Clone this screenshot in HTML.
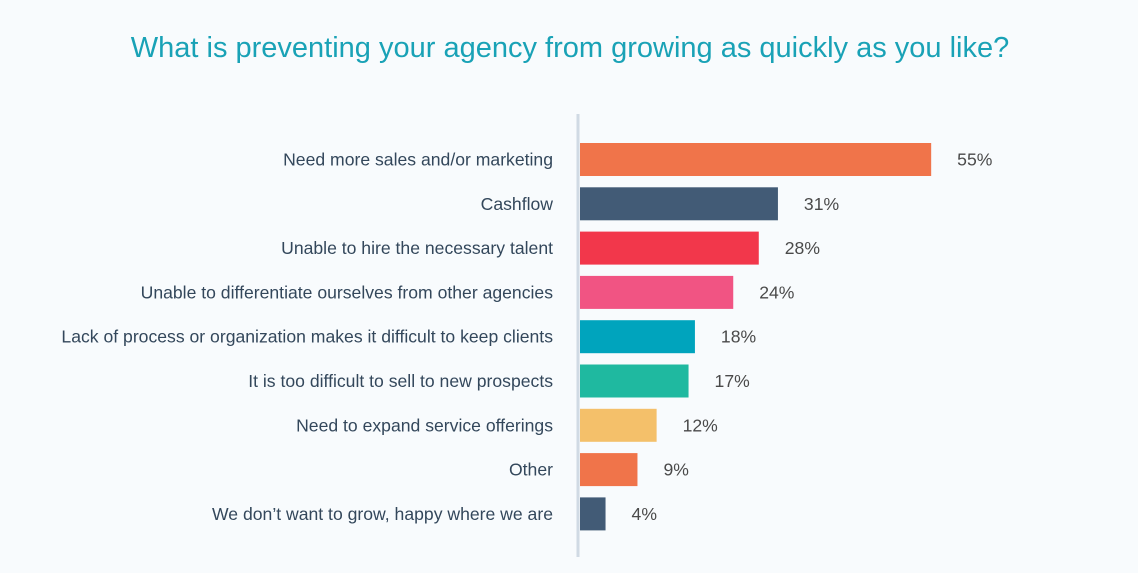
<!DOCTYPE html>
<html><head><meta charset="utf-8"><style>
body{margin:0;width:1138px;height:573px;background:#f8fbfd;font-family:"Liberation Sans",sans-serif;overflow:hidden}
svg{display:block}
</style></head><body>
<svg id="chart" width="1138" height="573">
<text x="570" y="57" text-anchor="middle" font-size="29" fill="#19a2b6">What is preventing your agency from growing as quickly as you like?</text>
<line x1="578" y1="114" x2="578" y2="557" stroke="#d0dae4" stroke-width="3"/>
</svg>
<script>
const categories=["Need more sales and/or marketing","Cashflow","Unable to hire the necessary talent","Unable to differentiate ourselves from other agencies","Lack of process or organization makes it difficult to keep clients","It is too difficult to sell to new prospects","Need to expand service offerings","Other","We don\u2019t want to grow, happy where we are"];
const values=[55,31,28,24,18,17,12,9,4];
const colors=["#f0744a","#425b76","#f2374b","#f15483","#00a4bd","#1fb9a0","#f4c06a","#f0744a","#425b76"];
const svg=document.getElementById('chart');
const NS="http://www.w3.org/2000/svg";
const x0=580, pxPer=6.385, top0=143, step=44.3, bh=33;
const xs=v=>v*pxPer;
const ys=i=>top0+i*step;
values.forEach((v,i)=>{
  const r=document.createElementNS(NS,'rect');
  r.setAttribute('x',x0);r.setAttribute('y',ys(i));r.setAttribute('width',xs(v));r.setAttribute('height',bh);r.setAttribute('fill',colors[i]);
  
  
  svg.appendChild(r);
  const t=document.createElementNS(NS,'text');
  t.setAttribute('x',553);t.setAttribute('y',ys(i)+bh/2+6);t.setAttribute('text-anchor','end');t.setAttribute('font-size','17.6');t.setAttribute('fill','#33475b');
  t.textContent=categories[i];
  
  
  svg.appendChild(t);
  const l=document.createElementNS(NS,'text');
  l.setAttribute('x',x0+xs(v)+26);l.setAttribute('y',ys(i)+bh/2+6);l.setAttribute('font-size','17.6');l.setAttribute('fill','#4a4a4a');
  l.textContent=v+'%';
  
  
  svg.appendChild(l);
});
</script>
</body></html>
